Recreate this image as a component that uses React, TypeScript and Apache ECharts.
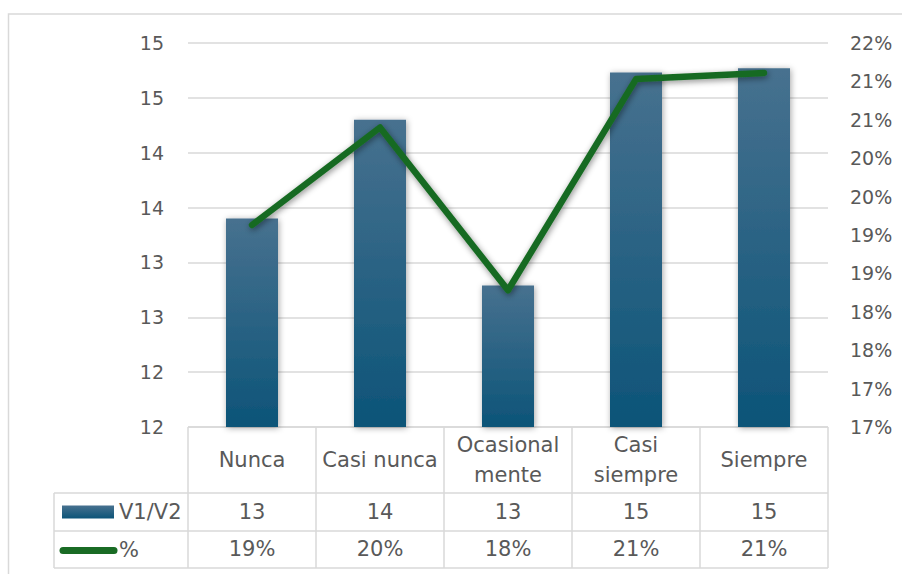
import React, { useEffect, useRef } from 'react';
import * as echarts from 'echarts';

// ---- data ----
const categories = ['Nunca', 'Casi nunca', 'Ocasional\nmente', 'Casi\nsiempre', 'Siempre'];
const seriesNames = ['V1/V2', '%'];
const barValues = [13.9, 14.8, 13.29, 15.23, 15.27];
const pctValues = [19.63, 20.9, 18.78, 21.53, 21.61];
const leftAxis = { min: 12, max: 15.5, interval: 0.5 };
const rightAxis = { min: 17, max: 22, interval: 0.5 };

// ---- layout / style ----
const W = 902;
const H = 574;
const GRID = { left: 188, right: 74, top: 43, bottom: 147 };
const TEXT = '#595959';
const BORDER = '#d9d9d9';
const FONT = '"DejaVu Sans", sans-serif';
const BAR_TOP = '#47718f';
const BAR_BOTTOM = '#0c5478';
const LINE = '#196B24';

const barGradient = () =>
  new echarts.graphic.LinearGradient(0, 0, 0, 1, [
    { offset: 0, color: BAR_TOP },
    { offset: 1, color: BAR_BOTTOM },
  ]);

export default function App() {
  const ref = useRef<HTMLDivElement>(null);

  useEffect(() => {
    if (!ref.current) return;
    const chart = echarts.init(ref.current, null, { renderer: 'svg', width: W, height: H });

    const plotW = W - GRID.left - GRID.right;
    const bandW = plotW / categories.length;
    const axisY = H - GRID.bottom;
    const row1 = axisY + 66;
    const row2 = row1 + 38;
    const row3 = row2 + 37;
    const tableLeft = 54;
    const tableRight = W - GRID.right;
    const ls = { stroke: BORDER, lineWidth: 1.5 };

    const graphics: any[] = [];
    graphics.push({
      type: 'rect',
      silent: true,
      z: -10,
      shape: { x: 8.5, y: 14, width: 1200, height: 1200 },
      style: { fill: 'none', stroke: BORDER, lineWidth: 1.5 },
    });
    for (let i = 0; i <= categories.length; i++) {
      const x = GRID.left + i * bandW;
      graphics.push({ type: 'line', silent: true, shape: { x1: x, y1: axisY, x2: x, y2: row3 }, style: ls });
    }
    graphics.push({ type: 'line', silent: true, shape: { x1: tableLeft, y1: row1, x2: tableLeft, y2: row3 }, style: ls });
    graphics.push({ type: 'line', silent: true, shape: { x1: GRID.left, y1: axisY, x2: tableRight, y2: axisY }, style: ls });
    [row1, row2, row3].forEach((y) =>
      graphics.push({ type: 'line', silent: true, shape: { x1: tableLeft, y1: y, x2: tableRight, y2: y }, style: ls })
    );
    // legend keys in the table
    const r1c = (row1 + row2) / 2;
    const r2c = (row2 + row3) / 2;
    graphics.push({
      type: 'rect',
      silent: true,
      shape: { x: 62, y: r1c - 6.5, width: 52, height: 13 },
      style: { fill: barGradient() },
    });
    graphics.push({
      type: 'text',
      silent: true,
      x: 119,
      y: r1c,
      style: { text: seriesNames[0], fill: TEXT, fontSize: 21, fontFamily: FONT, verticalAlign: 'middle', align: 'left' },
    });
    graphics.push({
      type: 'line',
      silent: true,
      shape: { x1: 63, y1: r2c + 1, x2: 114, y2: r2c + 1 },
      style: { stroke: LINE, lineWidth: 7, lineCap: 'round' },
    });
    graphics.push({
      type: 'text',
      silent: true,
      x: 119,
      y: r2c,
      style: { text: seriesNames[1], fill: TEXT, fontSize: 21, fontFamily: FONT, verticalAlign: 'middle', align: 'left' },
    });

    const tableLabel = (margin: number) => ({
      interval: 0,
      margin,
      color: TEXT,
      fontSize: 21,
      fontFamily: FONT,
      verticalAlign: 'middle' as const,
      lineHeight: 30,
    });

    chart.setOption({
      animation: false,
      backgroundColor: '#ffffff',
      grid: { ...GRID, containLabel: false, outerBoundsMode: 'none' },
      xAxis: [
        {
          type: 'category',
          data: categories,
          axisLine: { show: false },
          axisTick: { show: false },
          axisLabel: tableLabel(33),
        },
        {
          type: 'category',
          position: 'bottom',
          offset: 66,
          data: barValues.map((v) => String(Math.floor(v))),
          axisLine: { show: false },
          axisTick: { show: false },
          axisLabel: tableLabel(19),
        },
        {
          type: 'category',
          position: 'bottom',
          offset: 104,
          data: pctValues.map((v) => Math.floor(v) + '%'),
          axisLine: { show: false },
          axisTick: { show: false },
          axisLabel: tableLabel(18),
        },
      ],
      yAxis: [
        {
          type: 'value',
          position: 'left',
          ...leftAxis,
          axisLine: { show: false },
          axisTick: { show: false },
          splitLine: { show: true, lineStyle: { color: BORDER, width: 1.5 } },
          axisLabel: {
            margin: 24,
            color: TEXT,
            fontSize: 19,
            fontFamily: FONT,
            formatter: (v: number) => String(Math.floor(v)),
          },
        },
        {
          type: 'value',
          position: 'right',
          ...rightAxis,
          axisLine: { show: false },
          axisTick: { show: false },
          splitLine: { show: false },
          axisLabel: {
            margin: 22,
            color: TEXT,
            fontSize: 19,
            fontFamily: FONT,
            formatter: (v: number) => Math.floor(v) + '%',
          },
        },
      ],
      series: [
        {
          name: seriesNames[0],
          type: 'bar',
          xAxisIndex: 0,
          yAxisIndex: 0,
          data: barValues,
          barWidth: 52,
          clip: true,
          itemStyle: {
            color: barGradient(),
            shadowBlur: 6,
            shadowColor: 'rgba(0,0,0,0.35)',
            shadowOffsetX: 1,
            shadowOffsetY: 1,
          },
        },
        {
          name: seriesNames[1],
          type: 'line',
          xAxisIndex: 0,
          yAxisIndex: 1,
          data: pctValues,
          symbol: 'none',
          showSymbol: false,
          z: 5,
          lineStyle: {
            color: LINE,
            width: 6.5,
            cap: 'round',
            join: 'round',
            shadowBlur: 6,
            shadowColor: 'rgba(0,0,0,0.45)',
            shadowOffsetX: 1,
            shadowOffsetY: 2,
          },
        },
      ],
      graphic: graphics,
    });

    return () => chart.dispose();
  }, []);

  return (
    <div
      ref={ref}
      style={{ position: 'fixed', left: 0, top: 0, width: W, height: H, background: '#fff' }}
    />
  );
}
